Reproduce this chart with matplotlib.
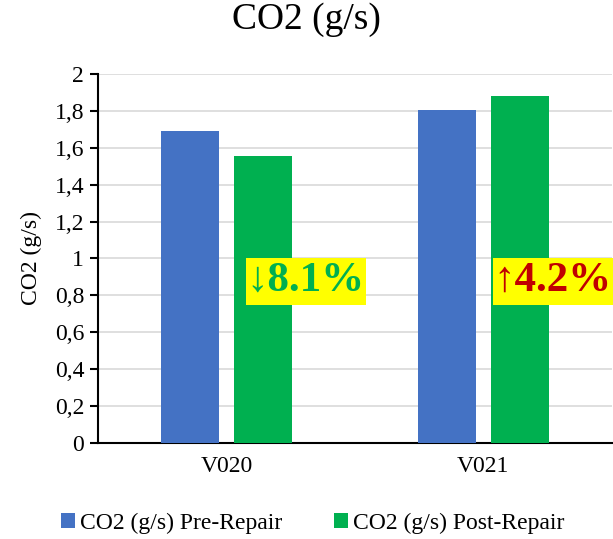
import matplotlib
matplotlib.use("Agg")
import matplotlib.pyplot as plt
from matplotlib.patches import Rectangle
from matplotlib.transforms import IdentityTransform
import numpy as np

categories = ["V020", "V021"]
pre_repair = [1.69, 1.805]
post_repair = [1.555, 1.88]
changes = ["\u21938.1%", "\u21914.2%"]
change_colors = ["#00B050", "#C00000"]
y_ticks = [0, 0.2, 0.4, 0.6, 0.8, 1.0, 1.2, 1.4, 1.6, 1.8, 2.0]
y_ticklabels = ["0", "0,2", "0,4", "0,6", "0,8", "1", "1,2", "1,4", "1,6", "1,8", "2"]

plt.rcParams["font.family"] = ["Liberation Serif", "DejaVu Serif"]

fig = plt.figure(figsize=(6.13, 5.39), dpi=100)
ax = fig.add_axes([0.160, 0.178, 0.838, 0.685])

x = np.arange(len(categories))
w = 0.226
ax.bar(x - 0.142, pre_repair, w, color="#4472C4", label="CO2 (g/s) Pre-Repair", zorder=3)
ax.bar(x + 0.142, post_repair, w, color="#00B050", label="CO2 (g/s) Post-Repair", zorder=3)

ax.set_xlim(-0.5, 1.5)
ax.set_ylim(0, 2)
ax.set_yticks(y_ticks)
ax.set_yticklabels(y_ticklabels)
ax.set_xticks(x)
ax.set_xticklabels(categories)
ax.tick_params(axis="y", labelsize=17, length=6, width=1.5, direction="out", pad=4)
ax.tick_params(axis="x", labelsize=17, length=0, pad=9)
ax.grid(axis="y", color="#D9D9D9", linewidth=1.2, zorder=0)
for s in ["top", "right"]:
    ax.spines[s].set_visible(False)
ax.spines["left"].set_linewidth(1.5)
ax.spines["bottom"].set_linewidth(1.5)
ax.set_ylabel("CO2 (g/s)", fontsize=17, labelpad=9)

# percent-change labels on yellow boxes (taller than the text, like the source)
labels = []
for xi, txt, col in zip([0.078, 1.04], changes, change_colors):
    t = ax.text(xi, 0.878, txt, color=col, fontsize=31, fontweight="bold",
                ha="left", va="center", zorder=6, clip_on=False)
    labels.append(t)

fig.suptitle("CO2 (g/s)", fontsize=27, y=0.995)
fig.legend(loc="lower center", bbox_to_anchor=(0.51, -0.03), ncol=2, frameon=False,
           fontsize=17, handlelength=0.6, handleheight=0.6, handletextpad=0.2,
           columnspacing=2.2)

fig.canvas.draw()
r = fig.canvas.get_renderer()
for t in labels:
    bb = t.get_window_extent(r)
    box = Rectangle((bb.x0 - 1, bb.y0 - 5), bb.width + 2, bb.height + 9,
                    transform=IdentityTransform(), facecolor="#FFFF00",
                    edgecolor="none", zorder=5, clip_on=False)
    ax.add_artist(box)

fig.savefig("out.png", dpi=100)
